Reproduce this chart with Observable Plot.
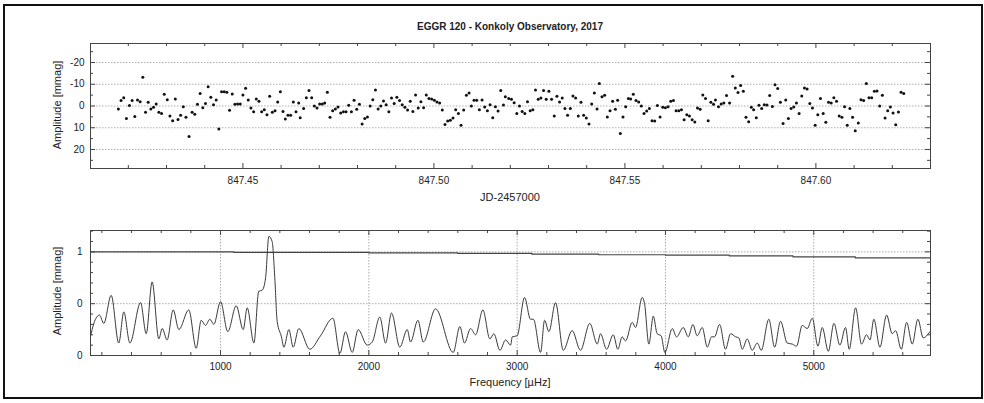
<!DOCTYPE html>
<html><head><meta charset="utf-8">
<script src="https://cdn.jsdelivr.net/npm/d3@7"></script>
<script src="https://cdn.jsdelivr.net/npm/@observablehq/plot@0.6"></script>
<style>
body{margin:0;background:#fff;}
#wrap{position:relative;width:984px;height:403px;overflow:hidden;background:#fff;font-family:"Liberation Sans",Arial,sans-serif;color:#222;}
.abs{position:absolute;}
.lbl{position:absolute;font-size:11px;white-space:nowrap;text-align:center;}
</style>
</head><body>
<div id="wrap">
  <div class="abs" style="left:3px;top:4px;width:976px;height:391px;border:2px solid #111;"></div>
  <div id="p1" class="abs" style="left:0;top:0"></div>
  <div id="p2" class="abs" style="left:0;top:210px"></div>
  <div id="title" class="lbl" style="left:0;width:1020px;top:21px;font-weight:bold;font-size:10px;"></div>
  <div id="xl1" class="lbl" style="left:410px;width:200px;top:191px;"></div>
  <div id="xl2" class="lbl" style="left:410px;width:200px;top:376px;"></div>
  <div id="yl1" class="lbl" style="left:-43px;width:200px;top:99px;transform:rotate(-90deg);"></div>
  <div id="yl2" class="lbl" style="left:-43px;width:200px;top:285px;transform:rotate(-90deg);"></div>
</div>
<script>
const titleText = "EGGR 120 - Konkoly Observatory, 2017";
const xLabelTop = "JD-2457000";
const xLabelBottom = "Frequency [µHz]";
const yLabel = "Amplitude [mmag]";

// light curve: [JD-2457000, amplitude mmag]
const lightCurve = [
[847.4174,1.4],[847.4181,-2.5],[847.4188,-3.8],[847.4195,5.7],[847.4203,-0.2],[847.4210,-2.5],[847.4217,4.8],[847.4224,-2.8],[847.4231,-2.0],[847.4238,-13.2],
[847.4245,2.9],[847.4252,-1.7],[847.4259,1.4],[847.4266,0.6],[847.4273,-0.9],[847.4280,2.9],[847.4287,3.4],[847.4294,-5.4],[847.4302,-2.9],[847.4309,4.6],
[847.4316,6.8],[847.4323,-3.2],[847.4330,6.2],[847.4337,4.2],[847.4344,0.3],[847.4351,5.2],[847.4359,14.0],[847.4367,2.9],[847.4374,3.8],[847.4381,-0.8],
[847.4388,-5.8],[847.4395,0.8],[847.4402,-1.1],[847.4409,-8.8],[847.4416,-4.0],[847.4423,-0.6],[847.4430,-2.8],[847.4437,10.6],[847.4444,-6.5],[847.4451,-6.5],
[847.4458,-6.3],[847.4465,2.0],[847.4472,-5.5],[847.4479,-0.8],[847.4486,-0.9],[847.4493,-0.9],[847.4500,-5.1],[847.4507,-8.2],[847.4514,-2.8],[847.4521,0.9],
[847.4528,2.6],[847.4535,-3.2],[847.4542,-2.2],[847.4549,2.6],[847.4556,1.7],[847.4563,4.0],[847.4570,-4.5],[847.4577,2.9],[847.4584,2.2],[847.4591,-1.8],
[847.4598,-6.6],[847.4605,2.5],[847.4611,6.0],[847.4618,4.3],[847.4625,4.3],[847.4632,-1.8],[847.4639,2.6],[847.4646,-1.4],[847.4650,5.4],
[847.4659,1.2],[847.4666,-3.8],[847.4673,-7.1],[847.4680,-3.8],[847.4687,0],[847.4694,0.9],[847.4701,-0.9],[847.4708,-0.9],[847.4714,-1.4],[847.4721,-6.3],
[847.4728,5.2],[847.4735,2.2],[847.4742,1.4],[847.4749,0.5],[847.4756,3.2],[847.4763,2.6],[847.4770,2.6],[847.4777,-0.3],[847.4784,2.6],[847.4791,-2.6],
[847.4798,1.5],[847.4805,-0.8],[847.4812,8.3],[847.4819,5.8],[847.4826,5.1],[847.4833,0],[847.4840,-2.9],[847.4847,-7.4],[847.4854,1.4],[847.4861,0],
[847.4868,-2.3],[847.4875,-0.6],[847.4882,2.6],[847.4889,-3.7],[847.4896,-1.1],[847.4903,-4.0],[847.4910,-2.5],[847.4917,-0.6],[847.4924,0.6],[847.4931,1.8],
[847.4938,-2.2],[847.4945,2.5],[847.4952,-5.1],[847.4959,0.9],[847.4966,-2.0],[847.4973,0.8],[847.4980,-5.1],[847.4987,-3.4],[847.4994,-3.2],[847.5001,-2.6],
[847.5008,-1.8],[847.5015,-1.4],[847.5022,1.8],[847.5029,8.5],[847.5036,6.9],[847.5043,6.5],[847.5050,5.5],[847.5057,1.7],[847.5064,3.5],[847.5071,8.9],
[847.5078,1.8],[847.5085,-4.9],[847.5092,-6.0],[847.5098,0],[847.5105,-2.6],[847.5112,-2.6],[847.5119,1.7],[847.5126,-2.8],[847.5133,0.5],[847.5140,2.2],
[847.5147,-0.6],[847.5154,5.4],[847.5161,0.3],[847.5168,2.3],[847.5175,-7.1],[847.5182,-0.5],[847.5187,-4.3],
[847.5196,-3.5],[847.5203,-3.1],[847.5210,-1.5],[847.5217,3.4],[847.5224,0],[847.5231,2.5],[847.5238,3.4],[847.5245,-2.0],[847.5252,2.2],[847.5259,1.7],
[847.5266,-7.4],[847.5273,-3.1],[847.5280,-3.7],[847.5287,-7.1],[847.5294,-3.1],[847.5301,-6.8],[847.5308,-3.1],[847.5315,4.6],[847.5322,-4.5],[847.5329,-1.8],
[847.5336,-3.7],[847.5343,1.2],[847.5350,4.2],[847.5357,1.2],[847.5364,-4.6],[847.5371,-3.7],[847.5378,4.6],[847.5385,-1.7],[847.5392,4.3],[847.5399,5.5],
[847.5406,8.3],[847.5413,-0.9],[847.5420,-6.0],[847.5427,1.4],[847.5433,-10.3],[847.5440,-4.2],[847.5447,-4.9],[847.5454,5.1],[847.5461,2.2],[847.5468,-2.2],
[847.5475,1.5],[847.5481,-2.6],[847.5488,12.6],[847.5495,5.1],[847.5502,0.3],[847.5509,-3.5],[847.5515,-3.2],[847.5522,-5.4],[847.5529,-2.5],[847.5536,-1.8],
[847.5543,0],[847.5550,3.4],[847.5557,2.3],[847.5564,1.2],[847.5571,6.8],[847.5578,6.9],[847.5585,-0.2],[847.5592,5.1],[847.5599,0.6],[847.5606,0.8],
[847.5613,0.3],[847.5620,-2.2],[847.5627,-2.5],[847.5634,2.2],[847.5641,2.2],[847.5648,1.7],[847.5655,6.3],[847.5662,4.0],[847.5669,4.6],[847.5676,6.3],
[847.5683,7.4],[847.5690,0.9],[847.5697,1.5],[847.5704,-5.1],[847.5711,-3.5],[847.5718,6.8],[847.5725,-1.7],[847.5732,-0.8],[847.5737,-2.8],
[847.5745,0.3],[847.5752,-0.9],[847.5759,-1.4],[847.5766,-4.8],[847.5774,-1.4],[847.5782,-13.7],[847.5789,-8.3],[847.5796,-6.2],[847.5803,-9.4],[847.5810,-6.8],
[847.5817,5.2],[847.5824,7.2],[847.5831,0.6],[847.5837,1.7],[847.5844,5.4],[847.5851,-0.3],[847.5858,1.1],[847.5865,-0.6],[847.5872,-0.5],[847.5879,-4.8],
[847.5886,0.2],[847.5893,-9.8],[847.5900,-8.0],[847.5907,-1.7],[847.5914,8.0],[847.5921,-2.8],[847.5928,5.8],[847.5935,1.2],[847.5942,0.5],[847.5949,-1.4],
[847.5956,3.5],[847.5963,-4.6],[847.5970,-8.3],[847.5977,-7.8],[847.5984,-1.2],[847.5991,0.9],[847.5998,8.9],[847.6005,4.0],[847.6012,-3.5],[847.6019,3.5],
[847.6026,7.5],[847.6033,-1.7],[847.6040,-1.4],[847.6047,-3.8],[847.6054,-2.2],[847.6061,4.6],[847.6068,5.2],[847.6075,0.3],[847.6082,8.9],[847.6089,1.1],
[847.6096,5.2],[847.6103,11.4],[847.6111,7.8],[847.6118,-2.9],[847.6125,-2.5],[847.6132,-10.3],[847.6139,-3.8],[847.6146,-3.8],[847.6153,-6.8],[847.6160,-6.9],
[847.6167,0],[847.6174,-4.9],[847.6181,5.5],[847.6188,2.2],[847.6195,0.5],[847.6202,3.2],[847.6209,8.6],[847.6216,2.8],[847.6223,-6.3],[847.6230,-5.8]
];

// amplitude spectrum: [frequency µHz, amplitude]
const spectrum = [
[123,0.18],[146,0.31],[184,0.39],[213,0.31],[263,0.58],[314,0.12],[348,0.42],[389,0.12],[461,0.51],[499,0.21],
[539,0.71],[584,0.16],[607,0.26],[640,0.15],[681,0.44],[719,0.25],[786,0.44],[836,0.07],[870,0.34],[899,0.29],
[928,0.35],[955,0.30],[1000,0.52],[1049,0.23],[1106,0.48],[1153,0.25],[1180,0.46],[1225,0.12],[1258,0.62],[1281,0.63],
[1304,0.75],[1326,1.15],[1348,1.10],[1366,0.75],[1382,0.33],[1411,0.18],[1427,0.08],[1461,0.25],[1490,0.08],[1528,0.26],
[1602,0.06],[1674,0.19],[1758,0.36],[1805,0.02],[1843,0.23],[1888,0.03],[1928,0.25],[1989,0.10],[2023,0.13],[2074,0.37],
[2113,0.12],[2153,0.41],[2209,0.08],[2259,0.25],[2281,0.13],[2331,0.34],[2367,0.13],[2450,0.45],[2569,0.03],[2614,0.28],
[2645,0.12],[2686,0.26],[2720,0.20],[2769,0.44],[2816,0.16],[2843,0.21],[2884,0.05],[2922,0.15],[2956,0.10],[2967,0.18],
[3000,0.19],[3050,0.56],[3090,0.35],[3110,0.35],[3158,0.03],[3185,0.34],[3214,0.23],[3259,0.51],[3311,0.05],[3371,0.24],
[3427,0.05],[3490,0.31],[3540,0.11],[3562,0.21],[3603,0.06],[3648,0.20],[3679,0.06],[3708,0.18],[3731,0.14],[3776,0.32],
[3798,0.27],[3843,0.56],[3859,0.50],[3888,0.11],[3918,0.38],[3944,0.21],[3971,0.19],[3996,0.03],[4046,0.26],[4075,0.18],
[4120,0.27],[4154,0.18],[4185,0.30],[4214,0.19],[4248,0.27],[4282,0.08],[4311,0.18],[4331,0.18],[4365,0.30],[4405,0.06],
[4439,0.21],[4473,0.18],[4495,0.17],[4518,0.06],[4551,0.16],[4585,0.05],[4619,0.12],[4646,0.05],[4697,0.35],[4736,0.08],
[4776,0.33],[4821,0.12],[4855,0.11],[4884,0.09],[4922,0.29],[4956,0.26],[4990,0.36],[5028,0.09],[5057,0.27],[5098,0.04],
[5136,0.31],[5176,0.10],[5214,0.27],[5239,0.06],[5282,0.46],[5322,0.11],[5356,0.20],[5379,0.15],[5405,0.35],[5446,0.08],
[5491,0.39],[5529,0.21],[5552,0.24],[5590,0.06],[5626,0.32],[5664,0.11],[5702,0.35],[5738,0.17],[5761,0.19],[5783,0.23]
];

// significance threshold
const threshold = [[123,1.0],[1090,0.995],[2000,0.99],[2600,0.985],[3100,0.978],[3550,0.972],[4000,0.968],[4430,0.962],[4860,0.952],[5280,0.942],[5787,0.935]];

// axes
const jdDomain = [847.4101, 847.6300];
const ampTopDomain = [-28.75, 28.75];
const jdTicks = [847.45, 847.50, 847.55, 847.60];
const jdMinor = [847.42,847.43,847.44,847.46,847.47,847.48,847.49,847.51,847.52,847.53,847.54,847.56,847.57,847.58,847.59,847.61,847.62];
const ampTopTicks = [-20, -10, 0, 10, 20];
const ampTopMinor = [-25, -15, -5, 5, 15, 25];

const freqDomain = [123.4, 5787];
const ampBotDomain = [0, 1.206];
const freqTicks = [1000, 2000, 3000, 4000, 5000];
const freqMinor = [200,400,600,800,1200,1400,1600,1800,2200,2400,2600,2800,3200,3400,3600,3800,4200,4400,4600,4800,5200,5400,5600];
const ampBotTicks = [0, 0.5, 1];
const ampBotTickLabels = ["0", "0", "1"];
const ampBotMinor = [0.1,0.2,0.3,0.4,0.6,0.7,0.8,0.9,1.1,1.2];

document.getElementById("title").textContent = titleText;
document.getElementById("xl1").textContent = xLabelTop;
document.getElementById("xl2").textContent = xLabelBottom;
document.getElementById("yl1").textContent = yLabel;
document.getElementById("yl2").textContent = yLabel;

const W = 984, ML = 90, MR = 54;
const PW = W - ML - MR;
const font = {fontFamily: '"Liberation Sans", Arial, sans-serif', fontSize: "10px", color: "#222", background: "transparent", overflow: "visible"};
const tickStroke = "#444";
const gridStroke = "#999";

function frameTicks(xs, ys, xsMinor, ysMinor, PH) {
  const M = 5, m = 3;
  return [
    Plot.tickX(xs, {x: d => d, insetTop: PH - M, stroke: tickStroke}),
    Plot.tickX(xs, {x: d => d, insetBottom: PH - M, stroke: tickStroke}),
    Plot.tickX(xsMinor, {x: d => d, insetTop: PH - m, stroke: tickStroke}),
    Plot.tickX(xsMinor, {x: d => d, insetBottom: PH - m, stroke: tickStroke}),
    Plot.tickY(ys, {y: d => d, insetRight: PW - M, stroke: tickStroke}),
    Plot.tickY(ys, {y: d => d, insetLeft: PW - M, stroke: tickStroke}),
    Plot.tickY(ysMinor, {y: d => d, insetRight: PW - m, stroke: tickStroke}),
    Plot.tickY(ysMinor, {y: d => d, insetLeft: PW - m, stroke: tickStroke})
  ];
}

// top panel
const H1 = 210, MT1 = 43, MB1 = 42;
const p1 = Plot.plot({
  width: W, height: H1, marginLeft: ML, marginRight: MR, marginTop: MT1, marginBottom: MB1,
  style: font,
  x: {domain: jdDomain},
  y: {domain: ampTopDomain, reverse: true},
  marks: [
    Plot.ruleY(ampTopTicks, {y: d => d, stroke: gridStroke, strokeDasharray: "1.5,1.5", strokeWidth: 0.8}),
    Plot.dot(lightCurve, {x: d => d[0], y: d => d[1], r: 1.5, fill: "#111", stroke: null}),
    ...frameTicks(jdTicks, ampTopTicks, jdMinor, ampTopMinor, H1 - MT1 - MB1),
    Plot.frame({stroke: "#444"}),
    Plot.axisX({ticks: jdTicks, tickSize: 0, tickPadding: 8, tickFormat: d => d.toFixed(2), label: null}),
    Plot.axisY({ticks: ampTopTicks, tickSize: 0, tickPadding: 6, tickFormat: d => String(d), label: null})
  ]
});
document.getElementById("p1").append(p1);

// bottom panel
const H2 = 193, MT2 = 20, MB2 = 48;
const p2 = Plot.plot({
  width: W, height: H2, marginLeft: ML, marginRight: MR, marginTop: MT2, marginBottom: MB2,
  style: font,
  x: {domain: freqDomain},
  y: {domain: ampBotDomain},
  marks: [
    Plot.ruleY([0.5, 1], {y: d => d, stroke: gridStroke, strokeDasharray: "1.5,1.5", strokeWidth: 0.8}),
    Plot.ruleX(freqTicks, {x: d => d, stroke: gridStroke, strokeDasharray: "1.5,1.5", strokeWidth: 0.8}),
    Plot.line(threshold, {x: d => d[0], y: d => d[1], curve: "step-after", stroke: "#444", strokeWidth: 1.2}),
    Plot.line(spectrum, {x: d => d[0], y: d => d[1], curve: "monotone-x", stroke: "#3a3a3a", strokeWidth: 1}),
    ...frameTicks(freqTicks, ampBotTicks, freqMinor, ampBotMinor, H2 - MT2 - MB2),
    Plot.frame({stroke: "#444"}),
    Plot.axisX({ticks: freqTicks, tickSize: 0, tickPadding: 7, tickFormat: d => String(d), label: null}),
    Plot.axisY({ticks: ampBotTicks, tickSize: 0, tickPadding: 8, tickFormat: d => ampBotTickLabels[ampBotTicks.indexOf(d)], label: null})
  ]
});
document.getElementById("p2").append(p2);
</script>
</body></html>
